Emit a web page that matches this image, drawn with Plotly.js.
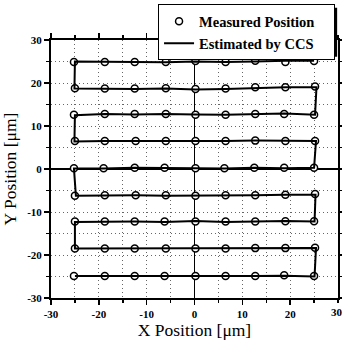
<!DOCTYPE html>
<html>
<head>
<meta charset="utf-8">
<script src="https://cdn.plot.ly/plotly-3.0.1.min.js"></script>
<style>html,body{margin:0;padding:0;background:#fff;}#chart{width:342px;height:345px;}</style>
</head>
<body>
<div id="chart"></div>
<script>
// Measured positions, in scan (serpentine) order
const measuredX = [
  25.0, 19.0, 12.7, 6.5, 0.2, -6.0, -12.5, -18.75, -25.2,
  -25.0, -18.75, -12.5, -6.0, 0.2, 6.5, 12.7, 19.0, 25.2,
  25.0, 18.75, 12.7, 6.5, 0.2, -6.0, -12.5, -18.75, -25.2,
  -25.0, -18.75, -12.3, -6.0, 0.2, 6.5, 12.7, 19.0, 25.2,
  25.0, 18.75, 12.5, 6.25, 0.2, -6.25, -12.5, -19.0, -25.2,
  -25.0, -18.75, -12.3, -6.0, 0.2, 6.5, 12.7, 19.0, 25.2,
  25.0, 19.0, 12.7, 6.5, 0.2, -6.25, -12.5, -18.75, -25.0,
  -25.0, -18.75, -12.5, -6.0, 0.2, 6.5, 12.7, 19.0, 25.2,
  25.0, 18.75, 12.7, 6.5, 0.2, -6.25, -12.5, -18.75, -25.2
];
const measuredY = [
  25.1, 24.9, 25.2, 24.9, 25.1, 24.9, 24.9, 24.9, 24.9,
  18.8, 18.7, 18.7, 18.8, 18.6, 18.7, 19.0, 19.0, 19.2,
  12.6, 12.8, 12.8, 12.6, 12.6, 12.8, 12.8, 12.8, 12.6,
  6.5, 6.5, 6.5, 6.5, 6.5, 6.5, 6.6, 6.5, 6.5,
  0.3, 0.3, 0.3, 0.15, 0.15, 0.3, 0.3, 0.15, 0.15,
  -6.2, -6.1, -6.1, -6.1, -6.2, -6.1, -6.1, -6.0, -5.8,
  -12.15, -12.15, -12.2, -12.2, -12.2, -12.2, -12.2, -12.2, -12.2,
  -18.5, -18.5, -18.5, -18.5, -18.5, -18.5, -18.4, -18.4, -18.3,
  -24.9, -24.7, -24.9, -24.9, -24.9, -24.9, -24.9, -24.9, -24.9
];
// Positions estimated by CCS, same scan order
const estimatedX = [
  25.0, 19.0, 12.6, 6.5, 0.2, -6.0, -12.5, -18.8, -25.0,
  -25.1, -18.7, -12.5, -6.0, 0.2, 6.5, 12.8, 19.1, 25.5,
  25.2, 18.8, 12.7, 6.5, 0.2, -6.0, -12.5, -18.8, -25.0,
  -25.1, -18.7, -12.3, -6.0, 0.2, 6.5, 12.7, 19.0, 25.4,
  25.0, 18.8, 12.5, 6.3, 0.2, -6.3, -12.5, -19.0, -25.2,
  -24.8, -18.7, -12.3, -6.0, 0.2, 6.5, 12.7, 19.0, 25.3,
  25.1, 19.0, 12.7, 6.5, 0.2, -6.2, -12.5, -18.8, -25.0,
  -25.0, -18.7, -12.5, -6.0, 0.2, 6.5, 12.7, 19.0, 25.4,
  25.1, 18.8, 12.7, 6.5, 0.2, -6.2, -12.5, -18.8, -25.0
];
const estimatedY = [
  25.2, 25.2, 25.0, 24.9, 25.0, 24.8, 24.9, 25.0, 25.0,
  18.7, 18.6, 18.6, 18.7, 18.5, 18.6, 18.8, 19.0, 19.0,
  12.6, 12.9, 12.7, 12.6, 12.7, 12.8, 12.7, 12.8, 12.5,
  6.4, 6.5, 6.5, 6.4, 6.5, 6.5, 6.6, 6.5, 6.5,
  0.3, 0.2, 0.3, 0.1, 0.2, 0.2, 0.3, 0.1, 0.1,
  -6.2, -6.1, -6.1, -6.2, -6.2, -6.1, -6.1, -6.0, -6.0,
  -12.2, -12.1, -12.2, -12.3, -12.1, -12.3, -12.2, -12.2, -12.3,
  -18.5, -18.5, -18.4, -18.5, -18.5, -18.4, -18.4, -18.5, -18.4,
  -25.0, -24.8, -24.9, -24.9, -24.8, -24.9, -24.8, -24.9, -24.9
];
const yTickVals = [-30, -20, -10, 0, 10, 20, 30];
const yTickText = ['-30', '-20', '-10', '0', '10', '20', '30'];
const xTickVals = [-30, -20, -10, 0, 10, 20];
const xTickText = ['-30', '-20', '-10', '0', '10', '20'];
const xEndTickLabel = '30';
const seriesNames = ['Measured Position', 'Estimated by CCS'];

const serif = 'Liberation Serif, Times New Roman, serif';
const pad = '\u00a0\u00a0\u00a0\u00a0';

const traces = [
  {
    x: measuredX, y: measuredY, type: 'scatter', mode: 'markers',
    name: seriesNames[0] + pad,
    marker: {symbol: 'circle', size: 7, color: '#fff', line: {color: '#000', width: 1.5}}
  },
  {
    x: estimatedX, y: estimatedY, type: 'scatter', mode: 'lines',
    name: seriesNames[1],
    line: {color: '#000', width: 2}
  }
];

const tickFont = {family: serif, size: 11, color: '#000', weight: 'bold'};

function axis(titleText, vals, text) {
  return {
    range: [-30, 30],
    tickvals: vals, ticktext: text,
    ticks: 'outside', ticklen: 5, tickwidth: 1.5, tickcolor: '#000',
    showline: true, linecolor: '#000', linewidth: 2, mirror: 'allticks',
    showgrid: true, gridcolor: '#666', griddash: '1px,3px', gridwidth: 1,
    zeroline: true, zerolinecolor: '#000', zerolinewidth: 1.8,
    minor: {dtick: 5, ticks: 'outside', ticklen: 3, tickcolor: '#000', showgrid: true, gridcolor: '#666', griddash: '1px,3px', gridwidth: 1},
    tickfont: tickFont,
    title: {text: titleText, font: {family: serif, size: 17.5, color: '#000'}},
    fixedrange: true
  };
}

const xa = axis('X Position [μm]', xTickVals, xTickText);
xa.title.standoff = 0;
const ya = axis('Y Position [μm]', yTickVals, yTickText);
ya.title.standoff = 8;

const layout = {
  width: 342, height: 345,
  margin: {l: 51, r: 4, t: 38, b: 47},
  paper_bgcolor: '#fff', plot_bgcolor: '#fff',
  showlegend: true,
  legend: {
    x: 0.373, y: 1.138, xanchor: 'left', yanchor: 'top',
    bgcolor: '#fff', bordercolor: '#000', borderwidth: 1,
    font: {family: serif, size: 14.5, color: '#000', weight: 'bold'},
    tracegroupgap: 0
  },
  annotations: [
    {x: 1, xref: 'paper', y: 0, yref: 'paper', yshift: -6, xshift: -9,
     text: xEndTickLabel, showarrow: false, yanchor: 'top', xanchor: 'left',
     font: tickFont}
  ],
  shapes: [
    // drop shadow of the legend box
    {type: 'rect', xref: 'paper', yref: 'paper', layer: 'above',
     x0: 0.390, x1: 0.997, y0: 0.935, y1: 1.125,
     fillcolor: '#000', line: {width: 0}}
  ],
  xaxis: xa, yaxis: ya
};

Plotly.newPlot('chart', traces, layout, {displayModeBar: false, staticPlot: true});
</script>
</body>
</html>
